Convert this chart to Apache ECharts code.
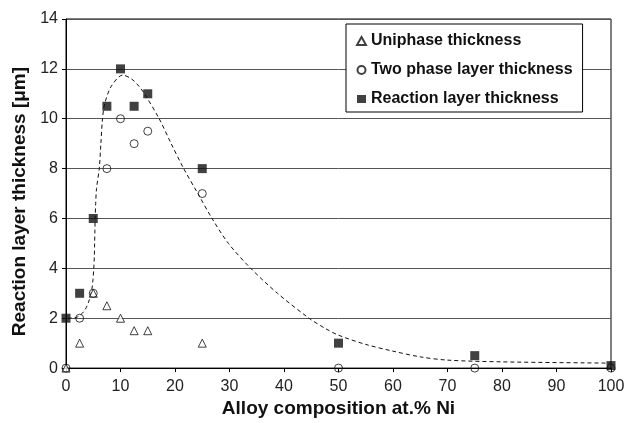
<!DOCTYPE html>
<html>
<head>
<meta charset="utf-8">
<script src="https://cdn.jsdelivr.net/npm/echarts@6/dist/echarts.min.js"></script>
<style>
  html, body { margin: 0; padding: 0; background: #fff; }
  #chart { width: 629px; height: 423px; }
</style>
</head>
<body>
<div id="chart"></div>
<script>
// values: [at.% Ni, thickness in µm]
const uniphase = [[0, 0], [2.5, 1], [5, 3], [7.5, 2.5], [10, 2], [12.5, 1.5], [15, 1.5], [25, 1]];
const twoPhase = [[0, 0], [2.5, 2], [5, 3], [7.5, 8], [10, 10], [12.5, 9], [15, 9.5], [25, 7], [50, 0], [75, 0], [100, 0]];
const reaction = [[0, 2], [2.5, 3], [5, 6], [7.5, 10.5], [10, 12], [12.5, 10.5], [15, 11], [25, 8], [50, 1], [75, 0.5], [100, 0.1]];
// dashed trend line
const trend = [[0.3, 2], [1.2, 2.01], [2.1, 2.05], [3, 2.2], [3.7, 2.42], [4.3, 2.75], [4.7, 3.1], [4.95, 3.55],
  [5.1, 4], [5.2, 4.5], [5.25, 5], [5.3, 5.5], [5.35, 6], [5.45, 6.6], [5.6, 7.2],
  [6.1, 8], [6.4, 9], [6.7, 10], [7.1, 10.6], [8.3, 11.3], [10.4, 11.75], [12, 11.6], [13.4, 11.3], [14.4, 11],
  [17.1, 10], [19.3, 9], [21.6, 8], [24.2, 7], [26.8, 6], [29.8, 5], [33.9, 4], [38.8, 3], [44.6, 2],
  [47.5, 1.6], [50, 1.32], [55, 0.95], [60, 0.68], [65, 0.45], [70, 0.32], [80, 0.25], [100, 0.2]];

const chart = echarts.init(document.getElementById('chart'));

const font = 'Liberation Sans, Arial, sans-serif';

chart.setOption({
  animation: false,
  backgroundColor: '#fff',
  grid: {
    left: 66, right: 18, top: 19, bottom: 54,
    show: true, borderColor: '#000', borderWidth: 1
  },
  legend: {
    orient: 'vertical',
    left: 346, top: 24,
    backgroundColor: '#fff',
    borderColor: '#000',
    borderWidth: 1,
    padding: [8, 10, 4, 10],
    itemGap: 11,
    itemWidth: 9,
    itemHeight: 8,
    data: ['Uniphase thickness', 'Two phase layer thickness', 'Reaction layer thickness'],
    textStyle: { fontFamily: font, fontWeight: 'bold', fontSize: 16, color: '#111', lineHeight: 18 }
  },
  xAxis: {
    type: 'value',
    min: 0, max: 100, interval: 10,
    name: 'Alloy composition at.% Ni',
    nameLocation: 'middle',
    nameGap: 27,
    nameTextStyle: { fontFamily: font, fontWeight: 'bold', fontSize: 19, color: '#111' },
    axisLine: { lineStyle: { color: '#000', width: 1 } },
    axisTick: { length: 4, lineStyle: { color: '#000' } },
    axisLabel: { fontFamily: font, fontSize: 16, color: '#222', margin: 10 },
    splitLine: { show: false }
  },
  yAxis: {
    type: 'value',
    min: 0, max: 14, interval: 2,
    name: 'Reaction layer thickness [\u03bcm]',
    nameLocation: 'middle',
    nameGap: 37,
    nameTextStyle: { fontFamily: font, fontWeight: 'bold', fontSize: 19, color: '#111', padding: [0, 16, 0, 0] },
    axisLine: { show: true, lineStyle: { color: '#000', width: 1 } },
    axisTick: { show: true, length: 4, lineStyle: { color: '#000' } },
    axisLabel: { fontFamily: font, fontSize: 16, color: '#222', margin: 8 },
    splitLine: { lineStyle: { color: '#555', width: 1 } }
  },
  series: [
    {
      name: 'trend',
      type: 'line',
      data: trend,
      smooth: 0.3,
      showSymbol: false,
      symbol: 'none',
      silent: true,
      lineStyle: { color: '#111', width: 1, type: [4, 3] },
      z: 1
    },
    {
      name: 'Uniphase thickness',
      type: 'scatter',
      data: uniphase,
      symbol: 'triangle',
      symbolSize: 8,
      itemStyle: { color: '#fff', borderColor: '#111', borderWidth: 1 },
      z: 3
    },
    {
      name: 'Two phase layer thickness',
      type: 'scatter',
      data: twoPhase,
      symbol: 'circle',
      symbolSize: 8,
      itemStyle: { color: 'rgba(255,255,255,0)', borderColor: '#111', borderWidth: 1 },
      z: 4
    },
    {
      name: 'Reaction layer thickness',
      type: 'scatter',
      data: reaction,
      symbol: 'rect',
      symbolSize: 9,
      itemStyle: { color: '#111' },
      z: 2
    }
  ]
});
</script>
</body>
</html>
